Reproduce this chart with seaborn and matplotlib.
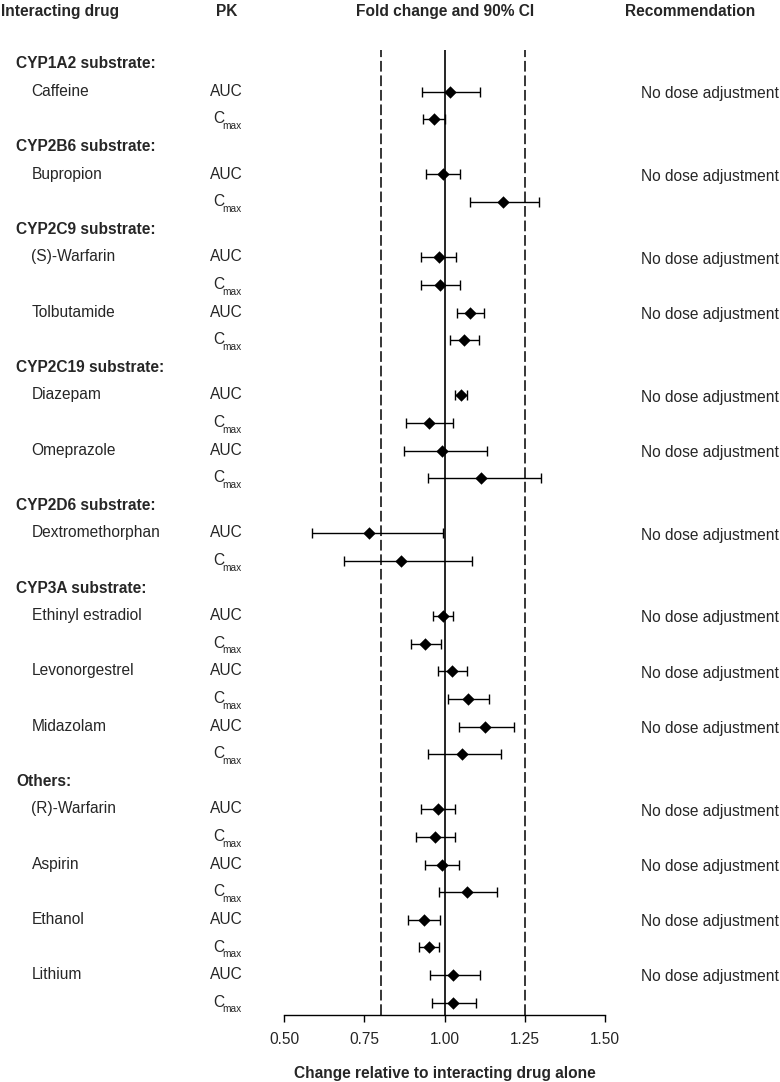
import pandas as pd
import seaborn as sns
import matplotlib
matplotlib.use("Agg")
from matplotlib import pyplot as plt, transforms

# data
groups = ["CYP1A2 substrate:", "CYP2B6 substrate:", "CYP2C9 substrate:", "CYP2C19 substrate:",
          "CYP2D6 substrate:", "CYP3A substrate:", "Others:"]
drugs = ["Caffeine", "Bupropion", "(S)-Warfarin", "Tolbutamide", "Diazepam", "Omeprazole",
         "Dextromethorphan", "Ethinyl estradiol", "Levonorgestrel", "Midazolam",
         "(R)-Warfarin", "Aspirin", "Ethanol", "Lithium"]
drug_group = [0, 1, 2, 2, 3, 3, 4, 5, 5, 5, 6, 6, 6, 6]

auc_est = [1.016, 0.995, 0.981, 1.080, 1.051, 0.993, 0.764, 0.995, 1.022, 1.127, 0.979, 0.991, 0.935, 1.027]
auc_lo = [0.929, 0.943, 0.927, 1.040, 1.033, 0.872, 0.586, 0.964, 0.978, 1.044, 0.927, 0.940, 0.887, 0.953]
auc_hi = [1.109, 1.048, 1.035, 1.123, 1.071, 1.132, 0.995, 1.027, 1.070, 1.215, 1.032, 1.045, 0.987, 1.109]

cmax_est = [0.967, 1.183, 0.986, 1.060, 0.951, 1.112, 0.863, 0.940, 1.073, 1.055, 0.969, 1.070, 0.951, 1.027]
cmax_lo = [0.933, 1.079, 0.927, 1.016, 0.880, 0.948, 0.685, 0.896, 1.009, 0.947, 0.912, 0.982, 0.920, 0.960]
cmax_hi = [1.002, 1.294, 1.048, 1.106, 1.027, 1.301, 1.086, 0.990, 1.139, 1.176, 1.032, 1.164, 0.982, 1.099]

recommendation = ["No dose adjustment"] * len(drugs)
pk_labels = ["AUC", "Cmax"]
xticks = [0.50, 0.75, 1.00, 1.25, 1.50]
ref_lines = [0.80, 1.25]

sns.set_style("white")
plt.rcParams["font.family"] = ["Liberation Sans", "DejaVu Sans"]

# lay out the rows: group header, then AUC / Cmax for each drug
rows = []
group_rows = []
r = 0
for g, gname in enumerate(groups):
    group_rows.append(r)
    r += 1
    for i, d in enumerate(drugs):
        if drug_group[i] != g:
            continue
        rows.append(dict(drug=d, pk=pk_labels[0], est=auc_est[i], lo=auc_lo[i], hi=auc_hi[i],
                         row=r, rec=recommendation[i]))
        r += 1
        rows.append(dict(drug="", pk=pk_labels[1], est=cmax_est[i], lo=cmax_lo[i], hi=cmax_hi[i],
                         row=r, rec=""))
        r += 1
df = pd.DataFrame(rows)

W, H = 780, 1082
fig = plt.figure(figsize=(W / 100, H / 100), dpi=100)
ax = fig.add_axes([284.3 / W, 1 - 1015 / H, 320.7 / W, (1015 - 50) / H])

for x in ref_lines:
    ax.axvline(x, color="black", lw=1.1, linestyle=(0, (7, 2.5)), zorder=1)
ax.axvline(1.0, color="black", lw=1.2, zorder=1)

ax.errorbar(df["est"], df["row"],
            xerr=[df["est"] - df["lo"], df["hi"] - df["est"]],
            fmt="none", ecolor="black", elinewidth=1.0, capsize=3.9, capthick=1.0, zorder=2)
sns.scatterplot(data=df, x="est", y="row", marker="D", s=40, color="black",
                linewidth=0, ax=ax, zorder=3, legend=False)

fs = 11.2
ax.set_xlim(0.5, 1.5)
ax.set_ylim(34.45, -0.51)
ax.set_xticks(xticks)
ax.set_xticklabels([f"{t:.2f}" for t in xticks], fontsize=fs)
ax.set_yticks([])
ax.set_ylabel("")
ax.set_xlabel("Change relative to interacting drug alone", fontsize=fs, fontweight="bold", labelpad=13.5)
ax.tick_params(axis="x", direction="out", length=5, width=1, pad=7.5, bottom=True, color="black")
for side in ["top", "left", "right"]:
    ax.spines[side].set_visible(False)
ax.spines["bottom"].set_linewidth(1)
ax.spines["bottom"].set_color("black")

# text columns
tr = transforms.blended_transform_factory(fig.transFigure, ax.transData)
base = 0.15
for gname, gr in zip(groups, group_rows):
    ax.text(16 / W, gr + base, gname, transform=tr, fontsize=fs, fontweight="bold",
            va="baseline", ha="left", clip_on=False)
for _, row in df.iterrows():
    if row["drug"]:
        ax.text(31.5 / W, row["row"] + base, row["drug"], transform=tr, fontsize=fs,
                va="baseline", ha="left", clip_on=False)
    if row["pk"] == "Cmax":
        ax.text(213 / W, row["row"] + base, "C", transform=tr, fontsize=fs,
                va="baseline", ha="left", clip_on=False)
        ax.text(222.5 / W, row["row"] + base + 0.2, "max", transform=tr, fontsize=7.3,
                va="baseline", ha="left", clip_on=False)
    else:
        ax.text(226.5 / W, row["row"] + base, row["pk"], transform=tr, fontsize=fs,
                va="baseline", ha="center", clip_on=False)
    if row["rec"]:
        ax.text(641 / W, row["row"] + base + 0.08, row["rec"], transform=tr, fontsize=fs,
                va="baseline", ha="left", clip_on=False)

head_y = 1 - 16 / H
fig.text(1 / W, head_y, "Interacting drug", fontsize=fs, fontweight="bold", va="baseline", ha="left")
fig.text(226.5 / W, head_y, "PK", fontsize=fs, fontweight="bold", va="baseline", ha="center")
fig.text(445 / W, head_y, "Fold change and 90% CI", fontsize=fs, fontweight="bold", va="baseline", ha="center")
fig.text(690 / W, head_y, "Recommendation", fontsize=fs, fontweight="bold", va="baseline", ha="center")

fig.savefig("out.png", dpi=100, facecolor="white")
